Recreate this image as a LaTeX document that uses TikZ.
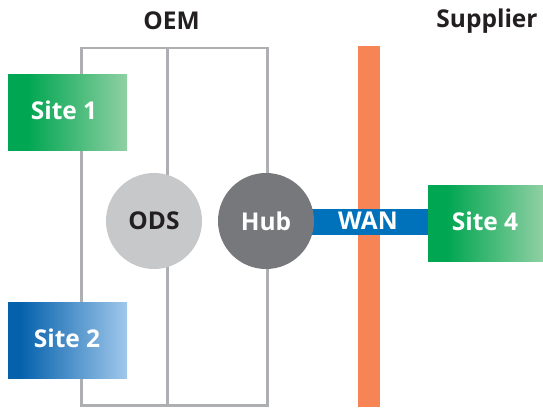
\documentclass[tikz,border=0pt]{standalone}
\usepackage{fontspec}
\setmainfont{Open Sans}
\definecolor{frameGray}{HTML}{ADAFB2}
\definecolor{odsGray}{HTML}{C7C8CA}
\definecolor{hubGray}{HTML}{77787B}
\definecolor{wanBlue}{HTML}{0072BC}
\definecolor{barOrange}{HTML}{F68454}
\definecolor{inkDark}{HTML}{231F20}
\pgfdeclarehorizontalshading{greensite}{100bp}{
  rgb(0bp)=(0,0.651,0.318);
  rgb(25bp)=(0,0.651,0.318);
  rgb(33bp)=(0,0.651,0.318);
  rgb(75bp)=(0.561,0.816,0.639);
  rgb(100bp)=(0.561,0.816,0.639)}
\pgfdeclarehorizontalshading{bluesite}{100bp}{
  rgb(0bp)=(0.02,0.38,0.675);
  rgb(25bp)=(0.02,0.38,0.675);
  rgb(30bp)=(0.02,0.38,0.675);
  rgb(75bp)=(0.627,0.784,0.922);
  rgb(100bp)=(0.627,0.784,0.922)}
\tikzset{
  x=1pt,y=-1pt,
  frameline/.style={draw=frameGray,line width=2.6pt},
  labelfont/.style={font=\bfseries\fontsize{24.5}{29}\selectfont},
  sitebox/.style={minimum width=119pt,minimum height=76pt,inner sep=0pt},
  sitetext/.style={labelfont,text=white,inner sep=0pt},
  hubdisc/.style={circle,minimum size=96pt,inner sep=0pt},
  heading/.style={text=inkDark,inner sep=0pt,labelfont},
}
\begin{document}
\begin{tikzpicture}
\useasboundingbox (0,0) rectangle (543,407);
\coordinate (tl) at (81.5,48);
\coordinate (tm) at (167.5,48);
\coordinate (tr) at (267.7,48);
\coordinate (bl) at (81.5,405.5);
\coordinate (bm) at (167.5,405.5);
\coordinate (br) at (267.7,405.5);
\draw[frameline,line join=miter] (tl) -- (tr) -- (br) -- (bl) -- cycle;
\draw[frameline] (tm) -- (bm);
\node[fill=barOrange,minimum width=22pt,minimum height=361pt,inner sep=0pt] (bar) at (369,226.5) {};
\node[fill=wanBlue,minimum width=120pt,minimum height=26pt,inner sep=0pt] (wan) at (370,222) {};
\node[sitetext] (wanlabel) at (368,221) {WAN};
\node[hubdisc,fill=odsGray,text=inkDark,labelfont] (ods) at (154,221) {ODS};
\node[hubdisc,fill=hubGray,text=white,labelfont] (hub) at (266,221) {Hub};
\node[sitebox,shading=greensite] (s1) at (67.5,112) {};
\node[sitetext] (s1label) at (64,110) {Site 1};
\node[sitebox,shading=bluesite] (s2) at (67.5,340) {};
\node[sitetext] (s2label) at (67,338) {Site 2};
\node[sitebox,minimum width=115pt,shading=greensite] (s4) at (485.5,223) {};
\node[sitetext] (s4label) at (485,221) {Site 4};
\node[heading] (oem) at (171.5,21) {OEM};
\node[heading] (sup) at (487,21) {Supplier};
\end{tikzpicture}
\end{document}
